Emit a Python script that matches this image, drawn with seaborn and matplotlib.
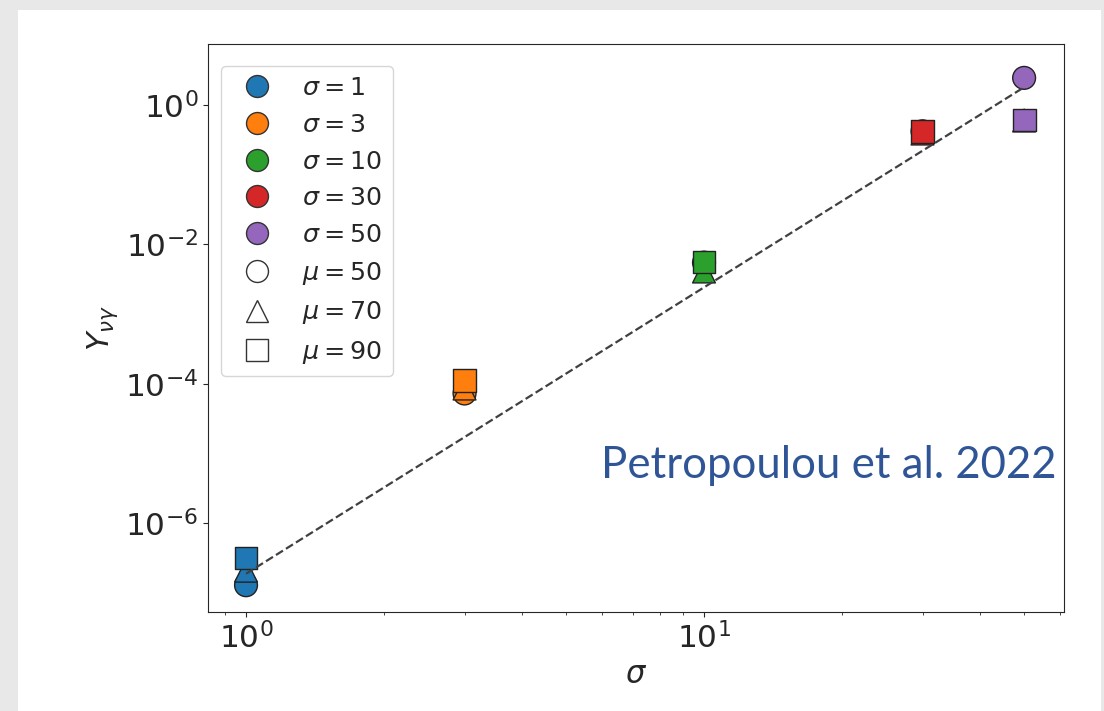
import matplotlib
matplotlib.use("Agg")
import matplotlib.pyplot as plt
import seaborn as sns
import pandas as pd
from matplotlib.lines import Line2D
from matplotlib.patches import Rectangle
from matplotlib.ticker import NullLocator, FixedLocator

# ---- data ----
sigma_values = [1, 3, 10, 30, 50]
sigma_labels = [r"$\sigma = 1$", r"$\sigma = 3$", r"$\sigma = 10$", r"$\sigma = 30$", r"$\sigma = 50$"]
mu_values = [50, 70, 90]
mu_labels = [r"$\mu = 50$", r"$\mu = 70$", r"$\mu = 90$"]
Y_mu50 = [1.3e-7, 7.3e-5, 5.5e-3, 0.42, 2.45]
Y_mu70 = [2.1e-7, 8.6e-5, 4.1e-3, 0.39, 0.60]
Y_mu90 = [3.2e-7, 1.13e-4, 5.6e-3, 0.42, 0.61]
fit_sigma = [1, 50]
fit_Y = [1.9e-7, 1.8]
y_ticks = [1e-6, 1e-4, 1e-2, 1e0]
colors = ["#1f77b4", "#ff7f0e", "#2ca02c", "#d62728", "#9467bd"]
mu_markers = ["o", "^", "s"]

rows = []
for mu, ys in zip(mu_labels, [Y_mu50, Y_mu70, Y_mu90]):
    for s, sl, y in zip(sigma_values, sigma_labels, ys):
        rows.append({"sigma": s, "Y": y, "sigma_label": sl, "mu_label": mu})
df = pd.DataFrame(rows)

sns.set_style("ticks")
plt.rcParams["font.family"] = "sans-serif"
plt.rcParams["font.sans-serif"] = ["DejaVu Sans"]
plt.rcParams["mathtext.fontset"] = "dejavusans"

fig = plt.figure(figsize=(11.04, 7.11), dpi=100, facecolor="#e8e8e8")
fig.patches.append(Rectangle((18 / 1104, 0), (1101 - 18) / 1104, 1 - 10 / 711,
                             transform=fig.transFigure, facecolor="white",
                             edgecolor="none", zorder=-1))
ax = fig.add_axes([208 / 1104, 1 - 612 / 711, (1064 - 208) / 1104, (612 - 44) / 711])
ax.set_xscale("log")
ax.set_yscale("log")

sns.scatterplot(data=df, x="sigma", y="Y", hue="sigma_label", style="mu_label",
                palette=dict(zip(sigma_labels, colors)),
                markers=dict(zip(mu_labels, mu_markers)),
                s=270, edgecolor="#222222", linewidth=1.0, legend=False,
                ax=ax, zorder=2)
sns.lineplot(x=fit_sigma, y=fit_Y, ax=ax, color="0.25", linestyle="--",
             linewidth=1.6, zorder=3)

ax.set_xlim(0.826, 61.1)
ax.set_ylim(10 ** -7.27, 10 ** 0.875)
ax.yaxis.set_major_locator(FixedLocator(y_ticks))
ax.yaxis.set_minor_locator(NullLocator())
ax.tick_params(labelsize=22.5)
ax.set_xlabel(r"$\sigma$", fontsize=22)
ax.set_ylabel(r"$Y_{\nu\gamma}$", fontsize=22)

handles = []
for c, lab in zip(colors, sigma_labels):
    handles.append(Line2D([], [], ls="", marker="o", markerfacecolor=c,
                          markeredgecolor="#333333", markeredgewidth=1.0,
                          markersize=15.8, label=lab))
for m, lab in zip(mu_markers, mu_labels):
    handles.append(Line2D([], [], ls="", marker=m, markerfacecolor="white",
                          markeredgecolor="#333333", markeredgewidth=1.0,
                          markersize=15.8, label=lab))
ax.legend(handles=handles, loc="upper left", fontsize=18.3,
          bbox_to_anchor=(221 / 1104, 1 - 66 / 711), bbox_transform=fig.transFigure,
          borderaxespad=0)

fig.text(601 / 1104, 1 - 466 / 711, "Petropoulou et al. 2022", color="#2F5597",
         fontsize=31.5, family=["Lato", "DejaVu Sans"], va="center", ha="left")

fig.savefig("out.png", dpi=100, facecolor=fig.get_facecolor())
